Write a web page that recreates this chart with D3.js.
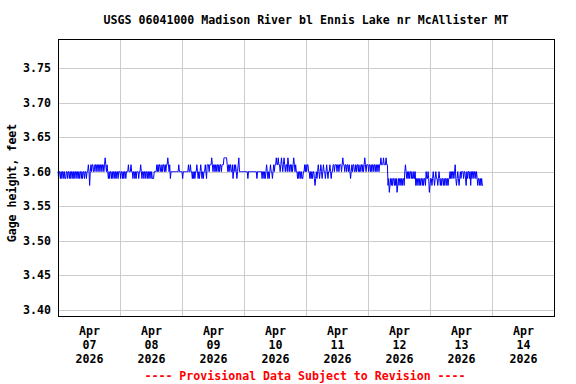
<!DOCTYPE html>
<html><head><meta charset="utf-8">
<script src="https://cdn.jsdelivr.net/npm/d3@7"></script>
<style>
html,body{margin:0;padding:0;background:#fff;}
text{font-family:"DejaVu Sans Mono",monospace;font-weight:bold;}
</style></head>
<body><svg id="c" width="576" height="384"></svg>
<script>
// Gage height, feet, 15-minute values starting 2026-04-07 00:00
const apr07 = [3.6,3.59,3.6,3.6,3.59,3.6,3.59,3.6,3.6,3.59,3.6,3.59,3.59,3.6,3.6,3.59,3.6,3.6,3.59,3.6,3.59,3.6,3.6,3.59,3.6,3.59,3.6,3.6,3.59,3.6,3.6,3.59,3.6,3.59,3.6,3.6,3.59,3.6,3.59,3.6,3.6,3.59,3.6,3.6,3.59,3.6,3.6,
3.61,3.6,3.58,3.6,
3.61,3.6,3.61,3.61,3.6,3.6,3.61,3.61,3.6,3.61,3.61,3.6,3.61,3.61,3.6,3.61,3.61,3.6,3.61,3.61,3.6,3.61,3.62,3.61,3.6,3.61,
3.6,3.59,3.6,3.59,3.6,3.6,3.59,3.6,3.59,3.6,3.6,3.59,3.6,3.59,3.6,3.6,3.59,3.6,3.6];
const apr08 = [3.6,3.59,3.6,3.6,3.59,3.6,3.59,3.6,3.6,3.59,3.6,
3.6,3.6,3.61,3.6,3.6,3.6,3.61,3.6,
3.6,3.59,3.6,3.6,3.59,3.6,3.59,3.6,3.6,3.6,3.59,3.6,3.6,3.61,3.6,3.59,3.6,3.6,3.59,3.6,3.6,3.59,3.6,3.6,3.59,3.6,3.59,3.6,3.6,3.59,3.6,
3.59,3.59,3.59,3.6,3.6,3.6,3.6,
3.61,3.6,3.61,3.6,3.61,3.61,3.6,3.6,3.61,3.6,3.61,3.61,3.6,3.61,3.6,3.61,3.61,3.62,3.61,3.6,3.61,
3.59,
3.6,3.6,3.6,3.6,3.6,3.6,3.6,3.6,3.6,3.6,3.6,3.6,3.61,3.6,3.6,3.6,3.6];
const apr09 = [3.6,3.59,3.6,3.6,3.6,3.6,3.6,3.6,3.6,3.6,
3.61,3.6,3.6,3.61,3.6,3.6,
3.59,3.6,3.59,3.6,3.59,3.6,3.6,3.61,3.6,3.59,3.6,3.59,3.6,3.61,3.6,3.59,3.6,3.59,3.6,3.6,3.61,3.6,3.59,3.61,
3.61,3.61,3.6,3.61,3.61,3.61,3.62,3.61,
3.6,3.61,3.61,3.6,3.61,3.6,3.61,3.61,3.6,3.61,3.6,3.61,3.61,3.6,3.61,3.61,3.61,
3.62,3.62,3.62,3.62,3.62,3.61,
3.6,3.61,3.6,3.61,3.61,3.6,3.6,3.61,3.59,3.6,3.61,3.6,3.61,3.6,3.59,3.6,3.61,
3.62,3.6,
3.6,3.6,3.6,3.6,3.6,3.6];
const apr10 = [3.6,3.6,3.6,3.6,3.6,3.6,3.59,3.6,3.6,
3.6,3.6,3.6,3.6,3.6,3.6,3.6,3.6,3.6,3.6,3.6,3.59,3.6,3.6,3.6,3.6,3.6,3.6,3.6,3.59,3.6,3.6,3.59,
3.6,3.59,3.6,3.61,3.6,3.59,3.6,3.59,3.6,3.61,3.6,3.6,3.59,3.6,3.61,3.6,
3.61,3.61,3.62,3.61,3.61,3.62,3.61,3.61,
3.6,3.61,3.62,3.61,3.6,3.61,3.62,3.61,3.6,3.61,3.61,3.6,3.62,3.61,3.6,3.61,3.61,3.6,3.61,3.6,3.61,3.62,3.61,3.6,3.61,3.6,
3.6,3.59,3.6,3.59,3.6,3.6,3.59,3.6,3.59,3.59,3.6,3.6,
3.61,3.6];
const apr11 = [3.61,3.6,3.61,3.61,3.6,3.6,
3.59,3.6,3.59,3.6,3.59,3.6,3.6,3.59,3.58,3.59,3.6,3.59,
3.6,3.61,3.6,3.59,3.6,3.61,3.6,3.59,3.6,3.61,3.6,3.6,3.59,3.6,3.61,3.6,3.59,3.6,3.6,3.61,3.6,3.59,3.6,3.6,
3.61,3.61,3.6,3.61,3.61,3.61,3.6,3.61,3.61,3.6,3.61,3.61,3.61,3.6,3.61,3.62,3.61,3.61,3.6,3.61,3.61,3.6,3.61,3.61,3.6,3.61,3.6,
3.59,
3.6,3.61,3.6,3.61,3.61,3.6,3.6,3.61,3.6,3.61,3.61,3.6,3.61,3.6,3.6,3.61,3.61,3.6,3.61,3.6,3.61,
3.62,
3.61,3.6,3.61,3.61];
const apr12 = [3.61,3.6,3.61,3.61,3.6,3.61,3.6,3.61,3.61,3.6,3.61,3.61,3.6,3.61,3.6,3.61,3.61,3.6,
3.61,3.61,3.62,3.61,3.61,3.61,3.62,3.61,3.61,3.61,3.62,3.61,3.61,
3.58,3.59,3.57,3.58,3.59,3.58,3.59,3.58,3.59,3.59,3.58,3.59,3.58,3.59,3.57,3.58,3.59,3.58,3.59,3.59,3.58,3.59,3.58,3.59,3.59,3.58,
3.6,3.61,3.6,3.59,3.6,
3.59,3.6,3.59,3.6,3.6,3.59,3.6,3.59,3.59,3.6,3.59,
3.6,3.58,3.59,3.58,3.59,3.59,3.58,3.59,3.58,3.59,3.59,3.58,3.59,3.58,3.59,3.59,3.58,3.6,3.59,3.59,
3.6,3.59,3.57];
const apr13 = [3.58,3.59,3.59,
3.58,3.59,3.6,3.59,3.58,3.59,3.6,3.59,3.59,3.58,3.59,3.6,
3.59,3.58,3.59,3.58,3.59,3.59,3.58,3.59,3.58,3.59,3.59,3.58,3.59,3.58,3.59,3.59,
3.6,3.59,3.6,3.59,3.6,3.6,3.59,3.6,
3.61,
3.59,3.58,3.59,3.6,3.59,3.58,3.59,3.6,3.59,3.6,3.6,
3.6,3.59,3.6,3.6,3.59,3.58,3.6,3.59,3.6,3.6,3.59,3.6,3.58,3.6,3.59,3.6,3.6,3.59,3.6,3.6,3.59,3.6,3.59,
3.58,3.59,3.59,3.58,3.59,3.58,3.59,3.58,3.58];

const yTicks = [3.40, 3.45, 3.50, 3.55, 3.60, 3.65, 3.70, 3.75];
const dayLabels = [["Apr","07","2026"],["Apr","08","2026"],["Apr","09","2026"],["Apr","10","2026"],["Apr","11","2026"],["Apr","12","2026"],["Apr","13","2026"],["Apr","14","2026"]];
const title = "USGS 06041000 Madison River bl Ennis Lake nr McAllister MT";
const yLabel = "Gage height, feet";
const footer = "---- Provisional Data Subject to Revision ----";

const values = [].concat(apr07, apr08, apr09, apr10, apr11, apr12, apr13);
const t0 = Date.UTC(2026, 3, 7, 0, 0);
const data = values.map((v, i) => ({ t: new Date(t0 + i * 15 * 60000), v }));

const svg = d3.select("#c");
const L = 58, R = 554, T = 39, B = 316;
const x = d3.scaleUtc().domain([new Date(Date.UTC(2026,3,7)), new Date(Date.UTC(2026,3,15))]).range([L, R]);
const y = d3.scaleLinear().domain([3.391, 3.792]).range([B, T]);

// grid
const midnights = d3.utcDay.range(new Date(Date.UTC(2026,3,8)), new Date(Date.UTC(2026,3,15)));
svg.append("g").selectAll("line").data(midnights).join("line")
  .attr("x1", d => x(d) + 0.5).attr("x2", d => x(d) + 0.5)
  .attr("y1", T).attr("y2", B).attr("stroke", "#cccccc").attr("stroke-width", 1);
svg.append("g").selectAll("line").data(yTicks).join("line")
  .attr("x1", L).attr("x2", R)
  .attr("y1", d => Math.round(y(d)) + 0.5).attr("y2", d => Math.round(y(d)) + 0.5)
  .attr("stroke", "#cccccc").attr("stroke-width", 1);

// data line
svg.append("path").datum(data)
  .attr("d", d3.line().x(d => x(d.t)).y(d => y(d.v)))
  .attr("fill", "none").attr("stroke", "#0000ff").attr("stroke-width", 1);

// frame
svg.append("rect").attr("x", L + 0.5).attr("y", T + 0.5).attr("width", R - L).attr("height", B - T)
  .attr("fill", "none").attr("stroke", "#000").attr("stroke-width", 1);

// y tick labels
svg.append("g").selectAll("text").data(yTicks).join("text")
  .attr("x", 51).attr("y", d => y(d) + 4)
  .attr("text-anchor", "end").attr("font-size", 11.6).attr("fill", "#000")
  .text(d => d3.format(".2f")(d));

// x labels at noon of each day
const noons = dayLabels.map((d, i) => new Date(Date.UTC(2026, 3, 7 + i, 12)));
const xl = svg.append("g").selectAll("text").data(dayLabels).join("text")
  .attr("text-anchor", "middle").attr("font-size", 11.6).attr("fill", "#000");
xl.each(function(d, i) {
  const g = d3.select(this);
  d.forEach((s, k) => g.append("tspan").attr("x", x(noons[i]) + 0.5).attr("y", 335 + k * 14).text(s));
});

// title
svg.append("text").attr("x", 306).attr("y", 24).attr("text-anchor", "middle")
  .attr("font-size", 11.6).attr("fill", "#000").text(title);
// y label
svg.append("text").attr("transform", "translate(16,183) rotate(-90)").attr("text-anchor", "middle")
  .attr("font-size", 11.6).attr("fill", "#000").text(yLabel);
// footer
svg.append("text").attr("x", 305).attr("y", 380).attr("text-anchor", "middle")
  .attr("font-size", 11.6).attr("fill", "#ff0000").text(footer);
</script></body></html>
